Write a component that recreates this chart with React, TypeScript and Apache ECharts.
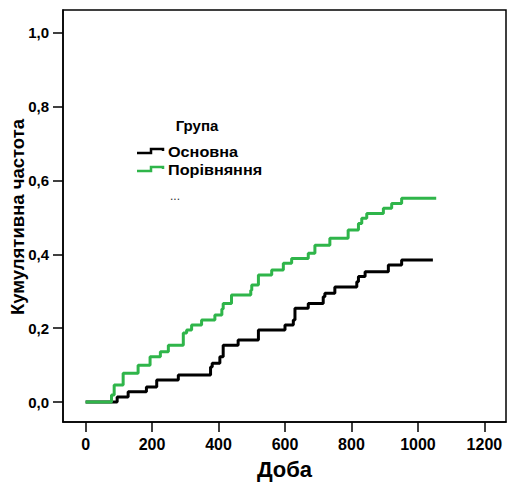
import React, { useEffect, useRef } from "react";
import * as echarts from "echarts";

// Основна (black) — cumulative frequency steps
const mainDays = [0, 95, 128, 183, 214, 279, 376, 381, 404, 414, 459, 520, 600, 625, 630, 670, 715, 720, 750, 816, 821, 841, 911, 951, 1045];
const mainValues = [0, 0.014, 0.028, 0.041, 0.06, 0.073, 0.095, 0.105, 0.123, 0.154, 0.168, 0.195, 0.209, 0.222, 0.254, 0.267, 0.285, 0.295, 0.312, 0.326, 0.34, 0.353, 0.371, 0.385, 0.385];

// Порівняння (green)
const compDays = [0, 78, 86, 113, 158, 194, 225, 249, 294, 304, 319, 349, 389, 410, 414, 439, 497, 500, 520, 560, 595, 620, 670, 690, 735, 790, 821, 831, 846, 896, 921, 951, 1055];
const compValues = [0, 0.019, 0.046, 0.078, 0.1, 0.123, 0.136, 0.154, 0.187, 0.195, 0.209, 0.222, 0.236, 0.252, 0.267, 0.29, 0.303, 0.317, 0.344, 0.358, 0.376, 0.389, 0.403, 0.425, 0.444, 0.466, 0.484, 0.498, 0.511, 0.525, 0.538, 0.552, 0.552];

const xTicks = [0, 200, 400, 600, 800, 1000, 1200];
const yTicks = [0, 0.2, 0.4, 0.6, 0.8, 1.0];

const seriesNames = ["Основна", "Порівняння"];
const seriesColors = ["#000000", "#2fb54a"];
const legendTitle = "Група";
const xTitle = "Доба";
const yTitle = "Кумулятивна частота";

const FONT = "'Liberation Sans', Arial, sans-serif";

export default function App() {
  const ref = useRef<HTMLDivElement>(null);
  useEffect(() => {
    if (!ref.current) return;
    const chart = echarts.init(ref.current, null, { renderer: "svg" });
    const toPairs = (xs: number[], ys: number[]) => xs.map((x, i) => [x, ys[i]]);
    const legendIcon = (y: number) => [
      [137, y + 2],
      [151, y + 2],
      [151, y - 2],
      [163, y - 2],
      [163, y],
    ];
    const legendText = (text: string, y: number) => ({
      type: "text",
      x: 168,
      y,
      scaleX: 1.08,
      style: {
        text,
        fontFamily: FONT,
        fontWeight: "bold",
        fontSize: 15,
        fill: "#000",
        align: "left",
        verticalAlign: "middle",
      },
    });
    chart.setOption({
      animation: false,
      backgroundColor: "#ffffff",
      grid: {
        left: 63,
        right: 1,
        top: 10,
        bottom: 62,
        containLabel: false,
        outerBoundsMode: "none",
      },
      xAxis: {
        type: "value",
        position: "bottom",
        min: -68,
        max: 1265,
        name: xTitle,
        nameLocation: "middle",
        nameGap: 36,
        nameTextStyle: { fontFamily: FONT, fontWeight: "bold", fontSize: 22, color: "#000" },
        axisLine: { show: true, onZero: false, lineStyle: { color: "#000", width: 1.5 } },
        axisTick: {
          show: true,
          length: 10,
          inside: false,
          customValues: xTicks,
          lineStyle: { color: "#000", width: 1.5 },
        },
        axisLabel: {
          margin: 14,
          customValues: xTicks,
          fontFamily: FONT,
          fontWeight: "bold",
          fontSize: 16,
          color: "#000",
          formatter: (v: number) => String(v),
        },
        splitLine: { show: false },
      },
      yAxis: {
        type: "value",
        position: "left",
        min: -0.054,
        max: 1.062,
        axisLine: { show: true, onZero: false, lineStyle: { color: "#000", width: 1.5 } },
        axisTick: {
          show: true,
          length: 10,
          inside: false,
          customValues: yTicks,
          lineStyle: { color: "#000", width: 1.5 },
        },
        axisLabel: {
          margin: 14,
          customValues: yTicks,
          fontFamily: FONT,
          fontWeight: "bold",
          fontSize: 15,
          color: "#000",
          formatter: (v: number) => v.toFixed(1).replace(".", ","),
        },
        splitLine: { show: false },
      },
      series: [
        {
          name: seriesNames[0],
          type: "line",
          step: "end",
          symbol: "none",
          data: toPairs(mainDays, mainValues),
          lineStyle: { color: seriesColors[0], width: 3 },
          itemStyle: { color: seriesColors[0] },
          z: 2,
        },
        {
          name: seriesNames[1],
          type: "line",
          step: "end",
          symbol: "none",
          data: toPairs(compDays, compValues),
          lineStyle: { color: seriesColors[1], width: 3 },
          itemStyle: { color: seriesColors[1] },
          z: 3,
        },
      ],
      graphic: [
        {
          type: "rect",
          shape: { x: 63, y: 10, width: 443, height: 412 },
          style: { fill: "none", stroke: "#000", lineWidth: 1.5 },
          silent: true,
          z: 10,
        },
        {
          type: "text",
          x: 17,
          y: 217,
          rotation: Math.PI / 2,
          style: {
            text: yTitle,
            fontFamily: FONT,
            fontWeight: "bold",
            fontSize: 18.5,
            fill: "#000",
            align: "center",
            verticalAlign: "middle",
          },
        },
        {
          type: "text",
          x: 197,
          y: 125,
          style: {
            text: legendTitle,
            fontFamily: FONT,
            fontWeight: "bold",
            fontSize: 15,
            fill: "#000",
            align: "center",
            verticalAlign: "middle",
          },
        },
        {
          type: "polyline",
          shape: { points: legendIcon(151) },
          style: { stroke: seriesColors[0], lineWidth: 2.5, fill: "none" },
        },
        legendText(seriesNames[0], 152),
        {
          type: "polyline",
          shape: { points: legendIcon(169) },
          style: { stroke: seriesColors[1], lineWidth: 2.5, fill: "none" },
        },
        legendText(seriesNames[1], 170),
        {
          type: "text",
          x: 170,
          y: 196,
          style: {
            text: "...",
            fontFamily: FONT,
            fontSize: 12,
            fill: "#333",
            align: "left",
            verticalAlign: "middle",
          },
        },
      ],
    });
    return () => chart.dispose();
  }, []);
  return (
    <div
      ref={ref}
      style={{ position: "fixed", left: 0, top: 0, width: 507, height: 484, background: "#fff" }}
    />
  );
}
